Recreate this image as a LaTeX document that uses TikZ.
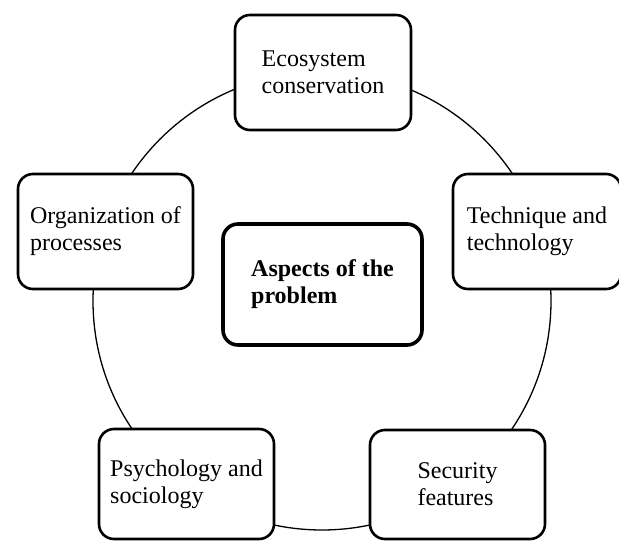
\documentclass[tikz,border=0pt]{standalone}
\usepackage{fontspec}
\setmainfont{Liberation Serif}
\begin{document}
\begin{tikzpicture}[x=1pt,y=-1pt,
  box/.style={draw=black, line width=2.6pt, rounded corners=15pt, fill=white,
    align=left, font=\fontsize{24}{27}\selectfont, inner sep=0pt},
  mainbox/.style={box, line width=3.6pt, font=\fontsize{24}{27}\selectfont\bfseries},
  ring/.style={draw=black, line width=1.3pt}]
\useasboundingbox (0,0) rectangle (619,541);
\fill[white] (0,0) rectangle (619,541);
\coordinate (c) at (322,301);
\draw[ring] (c) circle [radius=229pt];
\node[box, minimum width=176pt, minimum height=115pt] (eco) at (323,72.5) {Ecosystem\\conservation};
\node[box, minimum width=175pt, minimum height=115pt] (org) at (105.5,231.5) {Organization of\\processes};
\node[box, minimum width=168pt, minimum height=115pt] (tech) at (537,231.5) {Technique and\\technology};
\node[mainbox, minimum width=199pt, minimum height=121pt] (asp) at (322.5,284.5) {Aspects of the\\problem};
\node[box, minimum width=175pt, minimum height=110pt] (psy) at (186.5,484) {Psychology and\\sociology};
\node[box, minimum width=175pt, minimum height=109pt] (sec) at (457.5,484.5) {Security\\features};
\end{tikzpicture}
\end{document}
